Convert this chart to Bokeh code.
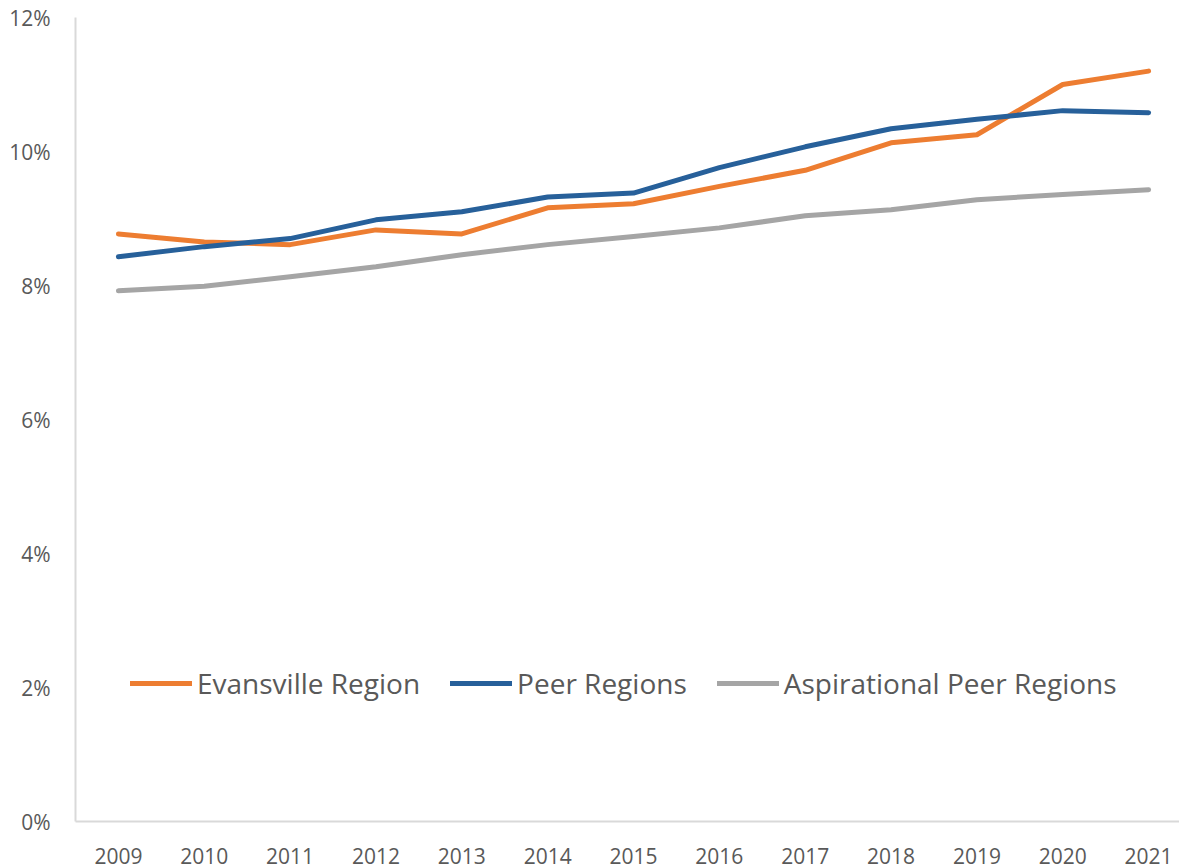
from bokeh.plotting import figure
from bokeh.models import FixedTicker, PrintfTickFormatter, Range1d, Legend, LegendItem
from bokeh.embed import file_html
from bokeh.resources import INLINE

years = [2009, 2010, 2011, 2012, 2013, 2014, 2015, 2016, 2017, 2018, 2019, 2020, 2021]
evansville = [8.77, 8.65, 8.61, 8.83, 8.77, 9.16, 9.22, 9.48, 9.72, 10.13, 10.25, 11.00, 11.20]
peer = [8.43, 8.58, 8.70, 8.98, 9.10, 9.32, 9.38, 9.76, 10.07, 10.34, 10.48, 10.61, 10.58]
aspirational = [7.92, 7.99, 8.13, 8.28, 8.46, 8.61, 8.73, 8.86, 9.04, 9.13, 9.28, 9.36, 9.43]
series_names = ["Evansville Region", "Peer Regions", "Aspirational Peer Regions"]
y_ticks = [0, 2, 4, 6, 8, 10, 12]

FONT = "Open Sans"
TXT = "#595959"

p = figure(width=1179, height=868, output_backend="svg", toolbar_location=None,
           x_range=Range1d(2008.5, 2021.36), y_range=Range1d(0, 12),
           min_border_left=75, min_border_right=0, min_border_top=17, min_border_bottom=47)
p.outline_line_color = None
p.xgrid.visible = False
p.ygrid.visible = False

colors = ["#ED7D31", "#27609A", "#A5A5A5"]
renderers = []
for vals, c in zip([evansville, peer, aspirational], colors):
    r = p.line(years, vals, line_color=c, line_width=5, line_join="round", line_cap="round")
    renderers.append(r)

for ax in (p.xaxis[0], p.yaxis[0]):
    ax.axis_line_color = "#D9D9D9"
    ax.axis_line_width = 2
    ax.major_tick_line_color = None
    ax.minor_tick_line_color = None
    ax.major_label_text_font = FONT
    ax.major_label_text_font_size = "21px"
    ax.major_label_text_color = TXT

p.xaxis.ticker = FixedTicker(ticks=years)
p.xaxis.formatter = PrintfTickFormatter(format="%d")
p.xaxis.major_label_standoff = 20
p.yaxis.ticker = FixedTicker(ticks=y_ticks)
p.yaxis.formatter = PrintfTickFormatter(format="%d%%")
p.yaxis.major_label_standoff = 19

legend = Legend(items=[LegendItem(label=n, renderers=[r]) for n, r in zip(series_names, renderers)],
                orientation="horizontal", location=(55, 119),
                background_fill_alpha=0, border_line_color=None,
                label_text_font=FONT, label_text_font_size="28px", label_text_color=TXT,
                glyph_width=62, glyph_height=28, label_standoff=5, spacing=30,
                padding=0, margin=0)
p.add_layout(legend)

open("out.html", "w").write(file_html(p, INLINE))
